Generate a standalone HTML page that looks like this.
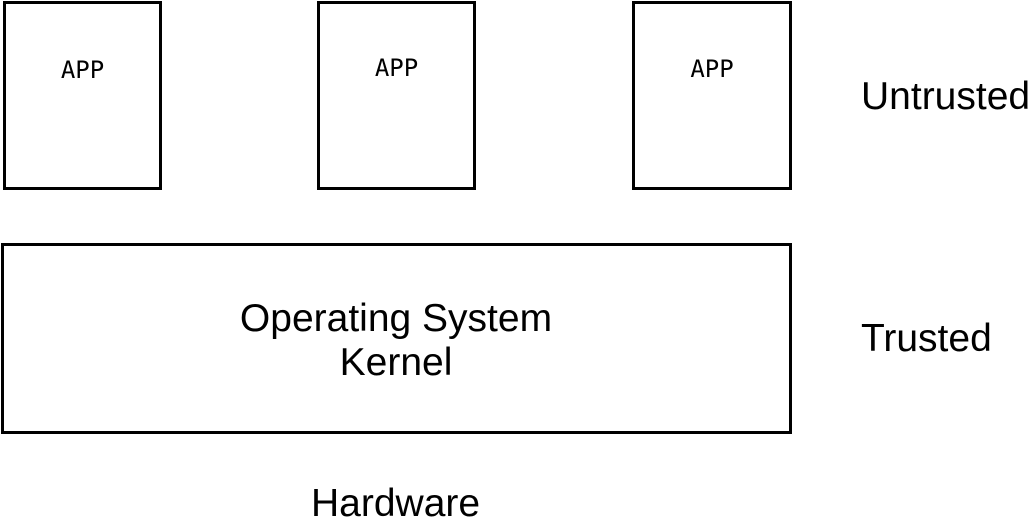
<!DOCTYPE html>
<html><head><style>
body{margin:0;width:1028px;height:519px;background:#fff;position:relative;overflow:hidden;font-family:"Liberation Sans",sans-serif;}
.b{position:absolute;border:3px solid #000;box-sizing:border-box;}
.app{font-family:"DejaVu Sans Mono","Liberation Mono",monospace;font-size:24px;position:absolute;width:100%;text-align:center;top:52px;}
.t{position:absolute;font-size:39px;line-height:45px;color:#000;white-space:nowrap;}
</style></head><body>
<div class="b" style="left:3px;top:1px;width:159px;height:189px"><div class="app" style="top:52px">APP</div></div>
<div class="b" style="left:317px;top:1px;width:159px;height:189px"><div class="app" style="top:50px">APP</div></div>
<div class="b" style="left:632px;top:1px;width:160px;height:189px"><div class="app" style="top:51px">APP</div></div>
<div class="b" style="left:1px;top:243px;width:791px;height:191px"></div>
<div class="t" style="left:0;width:792px;text-align:center;top:297px;line-height:44px">Operating System<br>Kernel</div>
<div class="t" style="left:861px;top:74px">Untrusted</div>
<div class="t" style="left:861px;top:316px">Trusted</div>
<div class="t" style="left:311px;top:481px">Hardware</div>
</body></html>
